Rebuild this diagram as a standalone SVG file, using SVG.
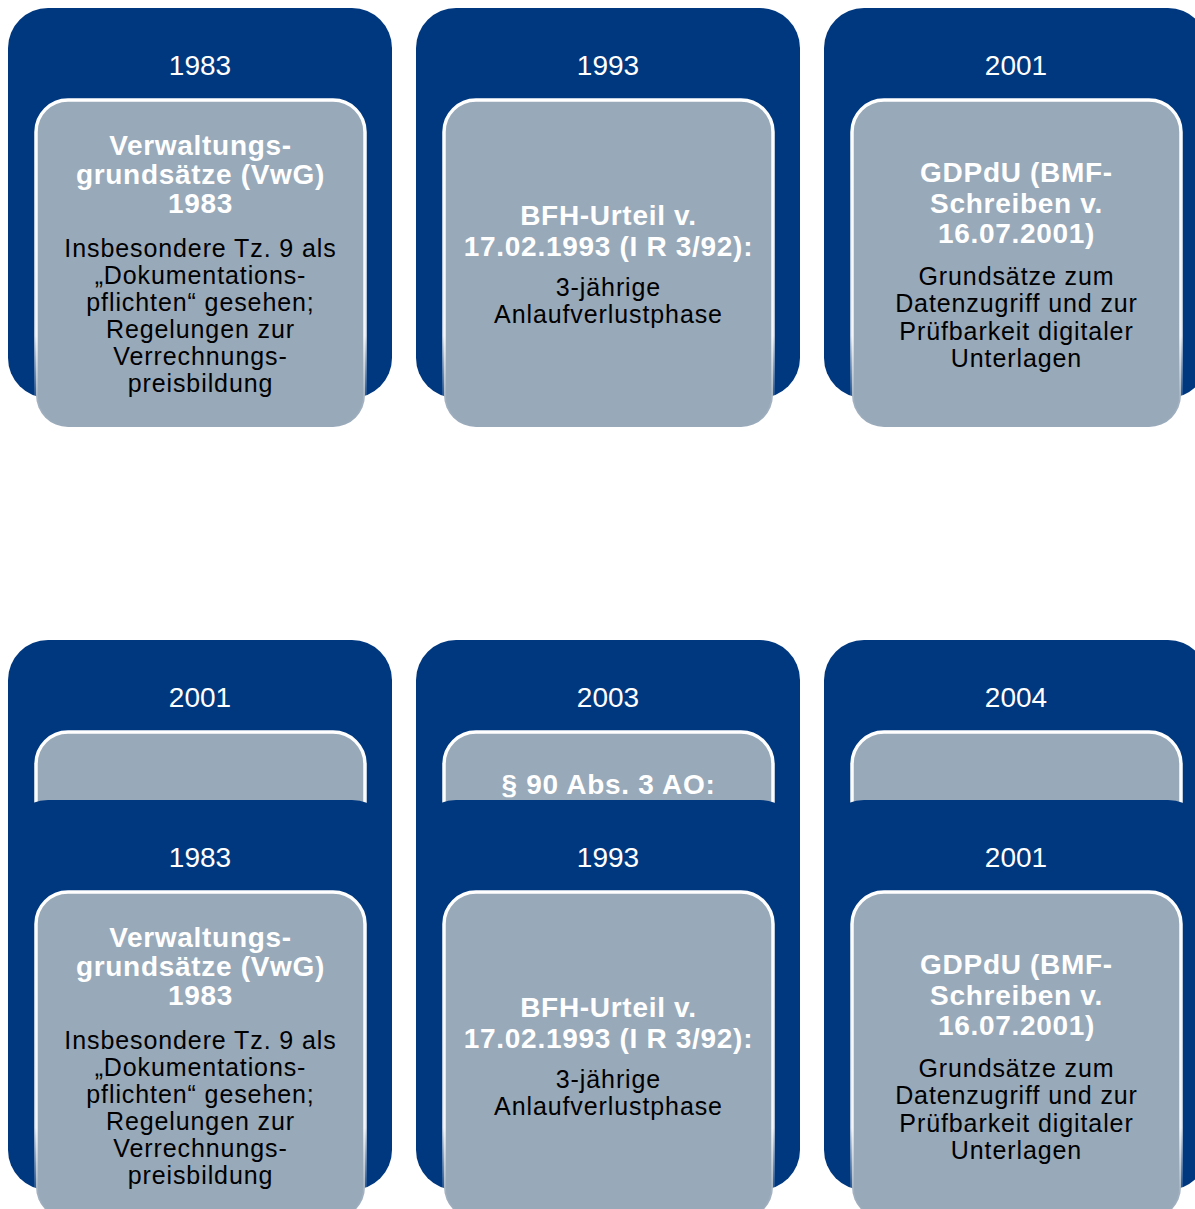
<svg xmlns="http://www.w3.org/2000/svg" width="1195" height="1209" viewBox="0 0 1195 1209">
<defs>
<linearGradient id="edge" x1="0" y1="0" x2="0" y2="1">
<stop offset="0" stop-color="#ffffff" stop-opacity="1"/>
<stop offset="0.72" stop-color="#ffffff" stop-opacity="0.9"/>
<stop offset="0.92" stop-color="#ffffff" stop-opacity="0.1"/>
<stop offset="1" stop-color="#ffffff" stop-opacity="0"/>
</linearGradient>
</defs>
<style>
.outer{fill:#00387F;}
.inner{fill:#98A9BA;stroke:url(#edge);stroke-width:3.5;}
.year{font-family:"Liberation Sans",Arial,sans-serif;font-size:28px;fill:#ffffff;text-anchor:middle;}
.title{font-family:"Liberation Sans",Arial,sans-serif;font-size:28px;font-weight:bold;fill:#ffffff;text-anchor:middle;letter-spacing:0.7px;}
.body{font-family:"Liberation Sans",Arial,sans-serif;font-size:25px;fill:#000000;text-anchor:middle;letter-spacing:0.9px;}
</style>
<rect width="1195" height="1209" fill="#ffffff"/>

<!-- Row 2 (partly hidden) -->
<g id="row2">
<g id="node-2001b">
<rect class="outer" x="8" y="640" width="384" height="390" rx="40"/>
<text class="year" x="200" y="707">2001</text>
<rect class="inner" x="36" y="732" width="329" height="327" rx="32"/>
</g>
<g id="node-2003">
<rect class="outer" x="416" y="640" width="384" height="390" rx="40"/>
<text class="year" x="608" y="707">2003</text>
<rect class="inner" x="444" y="732" width="329" height="327" rx="32"/>
<text class="title" x="608.5" y="794">§ 90 Abs. 3 AO:</text>
</g>
<g id="node-2004">
<rect class="outer" x="824" y="640" width="384" height="390" rx="40"/>
<text class="year" x="1016" y="707">2004</text>
<rect class="inner" x="852" y="732" width="329" height="327" rx="32"/>
</g>
</g>

<!-- Row 1 -->
<g id="row1">
<g id="node-1983">
<rect class="outer" x="8" y="8" width="384" height="390" rx="40"/>
<text class="year" x="200" y="75">1983</text>
<rect class="inner" x="36" y="100" width="329" height="327" rx="32"/>
<text class="title" x="200.5"><tspan x="200.5" y="155">Verwaltungs-</tspan><tspan x="200.5" y="184">grundsätze (VwG)</tspan><tspan x="200.5" y="213">1983</tspan></text>
<text class="body" x="200.5"><tspan x="200.5" y="257">Insbesondere Tz. 9 als</tspan><tspan x="200.5" y="284">„Dokumentations-</tspan><tspan x="200.5" y="311">pflichten“ gesehen;</tspan><tspan x="200.5" y="338">Regelungen zur</tspan><tspan x="200.5" y="365">Verrechnungs-</tspan><tspan x="200.5" y="392">preisbildung</tspan></text>
</g>
<g id="node-1993">
<rect class="outer" x="416" y="8" width="384" height="390" rx="40"/>
<text class="year" x="608" y="75">1993</text>
<rect class="inner" x="444" y="100" width="329" height="327" rx="32"/>
<text class="title" x="608.5"><tspan x="608.5" y="225">BFH-Urteil v.</tspan><tspan x="608.5" y="256">17.02.1993 (I R 3/92):</tspan></text>
<text class="body" x="608.5"><tspan x="608.5" y="296">3-jährige</tspan><tspan x="608.5" y="323">Anlaufverlustphase</tspan></text>
</g>
<g id="node-2001">
<rect class="outer" x="824" y="8" width="384" height="390" rx="40"/>
<text class="year" x="1016" y="75">2001</text>
<rect class="inner" x="852" y="100" width="329" height="327" rx="32"/>
<text class="title" x="1016.5"><tspan x="1016.5" y="182">GDPdU (BMF-</tspan><tspan x="1016.5" y="213">Schreiben v.</tspan><tspan x="1016.5" y="243">16.07.2001)</tspan></text>
<text class="body" x="1016.5"><tspan x="1016.5" y="285">Grundsätze zum</tspan><tspan x="1016.5" y="312">Datenzugriff und zur</tspan><tspan x="1016.5" y="340">Prüfbarkeit digitaler</tspan><tspan x="1016.5" y="367">Unterlagen</tspan></text>
</g>
</g>

<!-- Row 1 repeated, overlapping row 2 -->
<g id="row1-copy" transform="translate(0,792)">
<g id="node-1983-copy">
<rect class="outer" x="8" y="8" width="384" height="390" rx="40"/>
<text class="year" x="200" y="75">1983</text>
<rect class="inner" x="36" y="100" width="329" height="327" rx="32"/>
<text class="title" x="200.5"><tspan x="200.5" y="155">Verwaltungs-</tspan><tspan x="200.5" y="184">grundsätze (VwG)</tspan><tspan x="200.5" y="213">1983</tspan></text>
<text class="body" x="200.5"><tspan x="200.5" y="257">Insbesondere Tz. 9 als</tspan><tspan x="200.5" y="284">„Dokumentations-</tspan><tspan x="200.5" y="311">pflichten“ gesehen;</tspan><tspan x="200.5" y="338">Regelungen zur</tspan><tspan x="200.5" y="365">Verrechnungs-</tspan><tspan x="200.5" y="392">preisbildung</tspan></text>
</g>
<g id="node-1993-copy">
<rect class="outer" x="416" y="8" width="384" height="390" rx="40"/>
<text class="year" x="608" y="75">1993</text>
<rect class="inner" x="444" y="100" width="329" height="327" rx="32"/>
<text class="title" x="608.5"><tspan x="608.5" y="225">BFH-Urteil v.</tspan><tspan x="608.5" y="256">17.02.1993 (I R 3/92):</tspan></text>
<text class="body" x="608.5"><tspan x="608.5" y="296">3-jährige</tspan><tspan x="608.5" y="323">Anlaufverlustphase</tspan></text>
</g>
<g id="node-2001-copy">
<rect class="outer" x="824" y="8" width="384" height="390" rx="40"/>
<text class="year" x="1016" y="75">2001</text>
<rect class="inner" x="852" y="100" width="329" height="327" rx="32"/>
<text class="title" x="1016.5"><tspan x="1016.5" y="182">GDPdU (BMF-</tspan><tspan x="1016.5" y="213">Schreiben v.</tspan><tspan x="1016.5" y="243">16.07.2001)</tspan></text>
<text class="body" x="1016.5"><tspan x="1016.5" y="285">Grundsätze zum</tspan><tspan x="1016.5" y="312">Datenzugriff und zur</tspan><tspan x="1016.5" y="340">Prüfbarkeit digitaler</tspan><tspan x="1016.5" y="367">Unterlagen</tspan></text>
</g>
</g>

<g id="connectors"/>
</svg>
